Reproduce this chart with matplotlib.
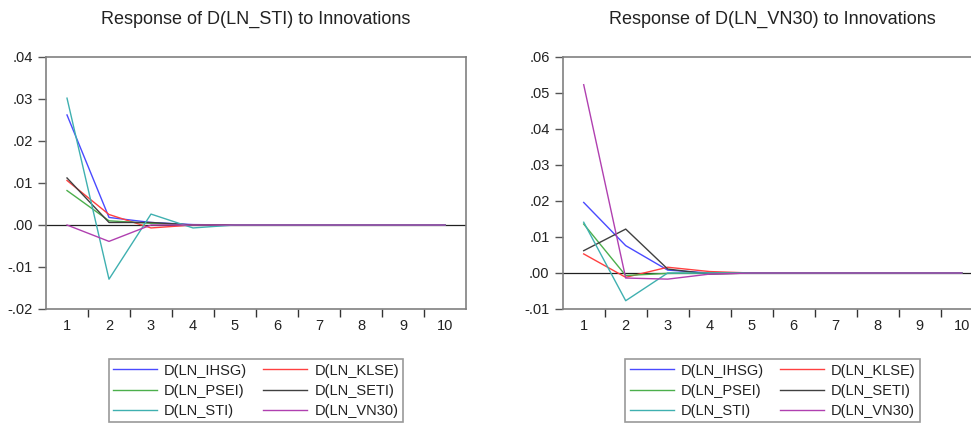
import matplotlib
matplotlib.use("Agg")
import matplotlib.pyplot as plt

plt.rcParams['font.family'] = ['Liberation Sans', 'DejaVu Sans']

periods = [1, 2, 3, 4, 5, 6, 7, 8, 9, 10]
names = ['D(LN_IHSG)', 'D(LN_KLSE)', 'D(LN_PSEI)', 'D(LN_SETI)', 'D(LN_STI)', 'D(LN_VN30)']
colors = ['#4a4aff', '#ff4040', '#4caf4c', '#404040', '#3fb0b0', '#b040b0']

# response of D(LN_STI)
sti_ihsg = [0.0262, 0.0018, 0.0006, 0.0001, 0.0, 0.0, 0.0, 0.0, 0.0, 0.0]
sti_klse = [0.0106, 0.0025, -0.0007, 0.0, 0.0, 0.0, 0.0, 0.0, 0.0, 0.0]
sti_psei = [0.0082, 0.0010, 0.0004, 0.0, 0.0, 0.0, 0.0, 0.0, 0.0, 0.0]
sti_seti = [0.0112, 0.0006, 0.0006, 0.0, 0.0, 0.0, 0.0, 0.0, 0.0, 0.0]
sti_sti = [0.0302, -0.0129, 0.0026, -0.0007, 0.0, 0.0, 0.0, 0.0, 0.0, 0.0]
sti_vn30 = [0.0, -0.0039, 0.0, 0.0, 0.0, 0.0, 0.0, 0.0, 0.0, 0.0]

# response of D(LN_VN30)
vn_ihsg = [0.0196, 0.0076, 0.0008, 0.0, 0.0, 0.0, 0.0, 0.0, 0.0, 0.0]
vn_klse = [0.0053, -0.0012, 0.0016, 0.0004, 0.0, 0.0, 0.0, 0.0, 0.0, 0.0]
vn_psei = [0.0136, -0.0007, -0.0001, 0.0, 0.0, 0.0, 0.0, 0.0, 0.0, 0.0]
vn_seti = [0.0062, 0.0122, 0.0011, -0.0003, 0.0, 0.0, 0.0, 0.0, 0.0, 0.0]
vn_sti = [0.0141, -0.0077, 0.0, 0.0, 0.0, 0.0, 0.0, 0.0, 0.0, 0.0]
vn_vn30 = [0.0523, -0.0014, -0.0017, -0.0003, 0.0, 0.0, 0.0, 0.0, 0.0, 0.0]

sti_yticks = [-0.02, -0.01, 0.0, 0.01, 0.02, 0.03, 0.04]
vn_yticks = [-0.01, 0.0, 0.01, 0.02, 0.03, 0.04, 0.05, 0.06]


def fmt(v):
    s = '%.2f' % v
    return s.replace('0.', '.')


def panel(ax, series, yticks, title):
    ax.axhline(0, color='#202020', lw=0.9, zorder=1)
    lines = []
    for vals, name, c in zip(series, names, colors):
        l, = ax.plot(periods, vals, color=c, lw=1.0, label=name, zorder=2)
        lines.append(l)
    ax.set_xlim(0.5, 10.5)
    ax.set_ylim(yticks[0], yticks[-1])
    ax.set_yticks(yticks)
    ax.set_yticklabels([fmt(v) for v in yticks])
    ax.set_xticks(periods)
    ax.set_xticklabels([str(p) for p in periods])
    ax.set_xticks([p + 0.5 for p in periods[:-1]], minor=True)
    ax.tick_params(axis='x', which='major', length=0, pad=7, labelsize=10.5, colors='#222222')
    ax.tick_params(axis='x', which='minor', length=6, width=1, color='#333333')
    ax.tick_params(axis='y', length=6, width=1, color='#555555', labelsize=10.5, labelcolor='#222222')
    for s in ax.spines.values():
        s.set_color('#808080')
        s.set_linewidth(1.2)
    ax.set_title(title, fontsize=13, pad=24, color='#222222')
    order = [0, 2, 4, 1, 3, 5]
    leg = ax.legend([lines[i] for i in order], [names[i] for i in order], ncol=2,
                    loc='upper center', bbox_to_anchor=(0.5, -0.17), frameon=True,
                    fancybox=False, fontsize=10.5, handlelength=3.0, columnspacing=1.1,
                    handletextpad=0.5, labelspacing=0.42, borderpad=0.3)
    leg.get_frame().set_edgecolor('#808080')
    leg.get_frame().set_linewidth(1.2)
    for t in leg.get_texts():
        t.set_color('#222222')


fig = plt.figure(figsize=(9.71, 4.25), dpi=100)
ax1 = fig.add_axes([46 / 971, 1 - 309 / 425, 420 / 971, 252 / 425])
ax2 = fig.add_axes([562.7 / 971, 1 - 309 / 425, 420 / 971, 252 / 425])

panel(ax1, [sti_ihsg, sti_klse, sti_psei, sti_seti, sti_sti, sti_vn30], sti_yticks,
      'Response of D(LN_STI) to Innovations')
panel(ax2, [vn_ihsg, vn_klse, vn_psei, vn_seti, vn_sti, vn_vn30], vn_yticks,
      'Response of D(LN_VN30) to Innovations')

fig.savefig('out.png', dpi=100)
